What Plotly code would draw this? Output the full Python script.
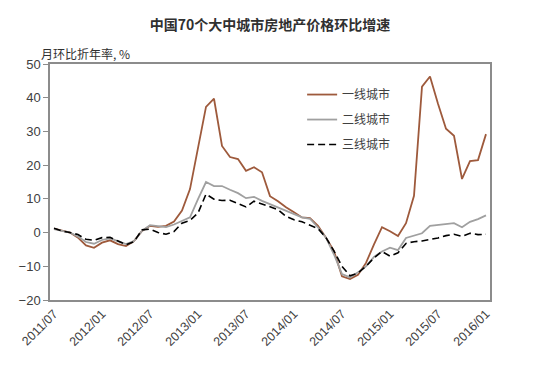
import plotly.graph_objects as go

# Monthly categories 2011/07 .. 2016/01
months = [f"{y}/{m:02d}" for y in range(2011, 2017) for m in range(1, 13)
          if (y, m) >= (2011, 7) and (y, m) <= (2016, 1)]

tier1 = [1.2, 0.5, 0.0, -1.5, -3.8, -4.5, -3.0, -2.3, -3.4, -4.0,
         -2.5, 0.5, 2.0, 1.7, 2.0, 3.3, 6.5, 12.9, 25.7, 37.3,
         39.7, 25.7, 22.4, 21.8, 18.3, 19.4, 17.9, 10.8, 9.3, 7.5,
         6.0, 4.5, 4.3, 2.0, -1.5, -5.5, -13.0, -13.8, -12.5, -9.0,
         -3.5, 1.6, 0.4, -1.0, 2.8, 10.9, 43.3, 46.3, 38.2, 30.8,
         28.7, 15.9, 21.2, 21.5, 29.2]

tier2 = [1.0, 0.5, 0.0, -1.2, -2.8, -3.3, -2.2, -1.7, -2.6, -3.4,
         -2.5, 0.5, 2.2, 2.0, 1.6, 2.4, 3.5, 4.5, 9.9, 15.0,
         13.8, 13.8, 12.7, 11.7, 10.2, 10.6, 9.4, 8.4, 7.5, 6.4,
         5.3, 4.5, 4.1, 1.5, -1.5, -6.5, -12.3, -13.3, -11.8, -10.0,
         -7.2, -5.6, -4.5, -5.2, -1.6, -1.0, -0.2, 2.0, 2.2, 2.4,
         2.8, 1.6, 3.2, 4.0, 5.1]

tier3 = [1.3, 0.5, 0.0, -0.6, -2.0, -2.3, -1.5, -1.4, -2.5, -3.6,
         -2.7, 0.8, 1.0, 0.0, -0.5, 0.3, 2.8, 3.6, 5.8, 11.4,
         9.9, 9.5, 9.6, 8.6, 7.6, 9.3, 8.4, 7.6, 6.8, 4.8,
         3.8, 3.2, 2.3, 1.2, -1.5, -5.5, -10.0, -12.8, -12.0, -10.0,
         -7.5, -5.6, -7.0, -6.0, -3.2, -2.7, -2.5, -2.1, -1.6, -0.9,
         -0.5, -1.1, -0.2, -0.6, -0.5]

series_names = ["一线城市", "二线城市", "三线城市"]
tick_labels = ["2011/07", "2012/01", "2012/07", "2013/01", "2013/07",
               "2014/01", "2014/07", "2015/01", "2015/07", "2016/01"]
y_ticks = [-20, -10, 0, 10, 20, 30, 40, 50]

x = list(range(len(months)))
tick_pos = [months.index(t) for t in tick_labels]
boundary_pos = [p - 0.5 for p in tick_pos]

fig = go.Figure()
styles = [
    dict(color="#9E5A3C", width=1.8, dash="solid"),
    dict(color="#A0A0A0", width=1.8, dash="solid"),
    dict(color="#000000", width=1.6, dash="7px,4px"),
]
for name, vals, st, g in zip(series_names, [tier1, tier2, tier3], styles, ["a", "b", "c"]):
    fig.add_trace(go.Scatter(x=x, y=vals, mode="lines", name=name,
                             legendgroup=g, line=st))

axis_color = "#8C8C8C"
font_cjk = "Noto Sans CJK SC, sans-serif"

fig.update_layout(
    width=534, height=369,
    margin=dict(l=42, r=52, t=56, b=77),
    paper_bgcolor="white", plot_bgcolor="white",
    font=dict(family=font_cjk, size=12, color="#404040"),
    showlegend=True,
    legend=dict(x=0.573, y=0.932, xanchor="left", yanchor="top",
                bgcolor="rgba(0,0,0,0)", font=dict(size=12, color="#404040"),
                tracegroupgap=6, itemwidth=30),
    title=dict(text="<b>中国70个大中城市房地产价格环比增速</b>",
               xref="container", yref="container",
               x=262 / 534, xanchor="center", y=1 - 17 / 369, yanchor="middle",
               font=dict(family=font_cjk, size=14, color="#303030")),
    xaxis=dict(range=[-0.5, len(months) - 0.5], tickmode="array",
               tickvals=tick_pos, ticktext=tick_labels, tickangle=-45,
               showgrid=False, zeroline=False, showline=True, mirror=True,
               linecolor=axis_color, linewidth=1.5, ticks="",
               tickfont=dict(family="Liberation Sans, Arial, sans-serif", size=12.5, color="#404040")),
    xaxis2=dict(range=[-0.5, len(months) - 0.5], overlaying="x", anchor="free",
                position=20 / 70, side="bottom", tickmode="array",
                tickvals=boundary_pos, showticklabels=False, ticks="outside",
                ticklen=4, tickcolor=axis_color, showline=True,
                linecolor=axis_color, linewidth=1, showgrid=False, zeroline=False),
    yaxis=dict(range=[-20, 50], tickmode="array", tickvals=y_ticks,
               showgrid=False, zeroline=False, showline=True, mirror=True,
               linecolor=axis_color, linewidth=1.5, ticks="outside",
               ticklen=5, tickcolor=axis_color,
               tickfont=dict(family="Liberation Sans, Arial, sans-serif", size=13, color="#404040")),
    annotations=[dict(text="月环比折年率, %", xref="paper", yref="paper",
                      x=-0.025, y=1.0, xanchor="left", yanchor="middle",
                      yshift=11, showarrow=False,
                      font=dict(family=font_cjk, size=12, color="#303030"))],
)

fig.write_html("out.html")
